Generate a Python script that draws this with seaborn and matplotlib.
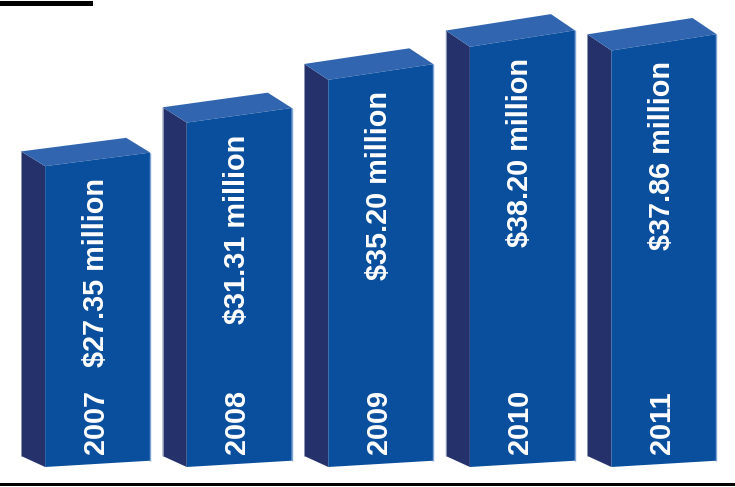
import matplotlib
matplotlib.use("Agg")
import matplotlib.pyplot as plt
import seaborn as sns
import pandas as pd
import numpy as np
from matplotlib.patches import Polygon, Rectangle

# Annual figures (millions of dollars)
years = ["2007", "2008", "2009", "2010", "2011"]
revenue = [27.35, 31.31, 35.20, 38.20, 37.86]
value_labels = [f"${v:.2f} million" for v in revenue]

FRONT = "#0A4F9D"
SIDE = "#24316B"
TOP = "#3165AF"
EDGE = "#7FA4D6"

sns.set_theme(style="white")
plt.rcParams["font.family"] = ["Liberation Sans", "DejaVu Sans"]

W, H = 735, 487
fig = plt.figure(figsize=(W / 100, H / 100), dpi=100)
ax = fig.add_axes([0, 0, 1, 1])

df = pd.DataFrame({"year": years, "revenue": revenue})
sns.barplot(data=df, x="year", y="revenue", color=FRONT, saturation=1,
            width=0.742, ax=ax, errorbar=None)

px_per_unit = 11.0
base_px = 20.0
ax.set_xlim(-0.69, (W - 98) / 141.5)
ax.set_ylim(-base_px / px_per_unit, (H - base_px) / px_per_unit)
ax.set_axis_off()

to_disp = ax.transData.transform
to_data = ax.transData.inverted().transform

# perspective: front edges tilt upward to the right, more so higher up
S0, S1 = 0.06, 0.00023
DX, D0, D1 = -24.0, 11.0, 0.0125


def lift(u, hpx):
    return u * (S0 + S1 * hpx)


def depth(hpx):
    return np.array([DX, D0 + D1 * hpx])


for i, p in enumerate(ax.patches):
    x0, w, hgt = p.get_x(), p.get_width(), p.get_height()
    (xl, yb), (xr, yt) = to_disp([(x0, 0), (x0 + w, hgt)])
    wpx, hpx = xr - xl, yt - yb

    fl_b = np.array([xl, yb])
    fr_b = np.array([xr, yb + lift(wpx, 0)])
    fl_t = np.array([xl, yt])
    fr_t = np.array([xr, yt + lift(wpx, hpx)])
    bl_b = fl_b + depth(0)
    bl_t = fl_t + depth(hpx)
    br_t = fr_t + depth(hpx)

    p.set_visible(False)
    faces = [
        ([fl_b, fl_t, bl_t, bl_b], SIDE),
        ([fl_t, fr_t, br_t, bl_t], TOP),
        ([fl_b, fr_b, fr_t, fl_t], FRONT),
    ]
    for pts, col in faces:
        ax.add_patch(Polygon(to_data(np.array(pts)), closed=True,
                             facecolor=col, edgecolor="none", zorder=3))
    ax.plot(*to_data(np.array([fr_b, fr_t])).T, color=EDGE, lw=1.0,
            zorder=4, solid_capstyle="butt")
    ax.plot(*to_data(np.array([bl_b, bl_t])).T, color="#8E98B5", lw=0.7,
            zorder=4, solid_capstyle="butt")

    xc = (xl + xr) / 2 - 2
    top_txt = yt + lift(wpx / 2, hpx) - 19
    bot_txt = yb + lift(wpx / 2, 0) + 10
    tx, ty = to_data([(xc, top_txt)])[0]
    ax.text(tx, ty, value_labels[i], rotation=90, ha="center", va="top",
            color="white", fontsize=20.8, fontweight="bold", zorder=5)
    bx, by = to_data([(xc, bot_txt)])[0]
    ax.text(bx, by, years[i], rotation=90, ha="center", va="bottom",
            color="white", fontsize=20.8, fontweight="bold", zorder=5)

# baseline rule and short top-left rule
fig.patches.append(Rectangle((0, 1 / H), 1, 3 / H, transform=fig.transFigure,
                             facecolor="black", edgecolor="none"))
fig.patches.append(Rectangle((0, (H - 6) / H), 93 / W, 5 / H,
                             transform=fig.transFigure,
                             facecolor="black", edgecolor="none"))

fig.savefig("out.png", dpi=100)
